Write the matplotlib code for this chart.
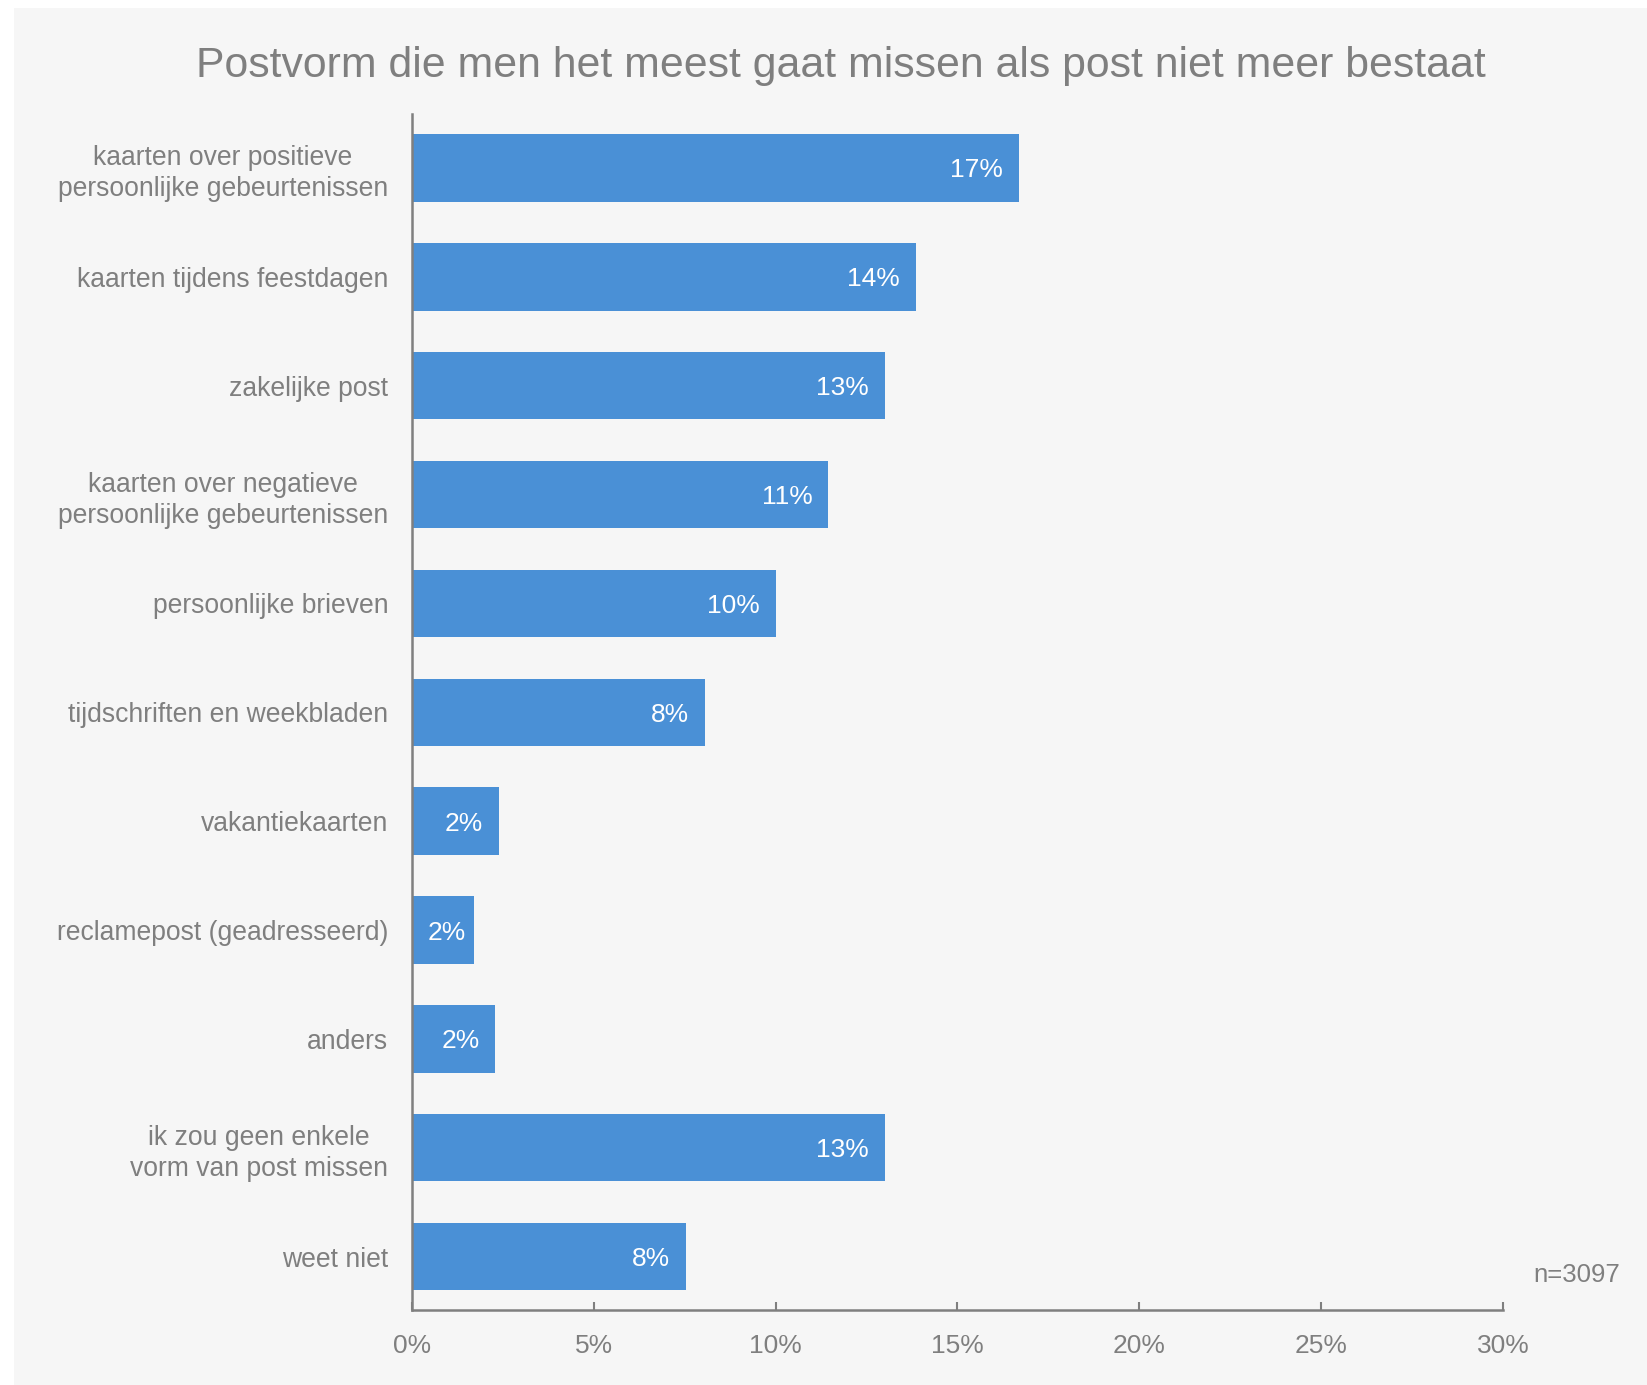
import matplotlib
matplotlib.use("Agg")
import matplotlib.pyplot as plt
from matplotlib.patches import Rectangle

categories = [
    "kaarten over positieve\npersoonlijke gebeurtenissen",
    "kaarten tijdens feestdagen",
    "zakelijke post",
    "kaarten over negatieve\npersoonlijke gebeurtenissen",
    "persoonlijke brieven",
    "tijdschriften en weekbladen",
    "vakantiekaarten",
    "reclamepost (geadresseerd)",
    "anders",
    "ik zou geen enkele\nvorm van post missen",
    "weet niet",
]
values = [16.7, 13.85, 13.0, 11.45, 10.0, 8.05, 2.4, 1.7, 2.3, 13.0, 7.55]
xticks = [0, 5, 10, 15, 20, 25, 30]
xticklabels = ["0%", "5%", "10%", "15%", "20%", "25%", "30%"]
title = "Postvorm die men het meest gaat missen als post niet meer bestaat"
note = "n=3097"

bar_color = "#4a90d6"
text_color = "#7f7f7f"
panel_color = "#f6f6f6"

plt.rcParams["font.family"] = ["Liberation Sans", "DejaVu Sans"]

fig = plt.figure(figsize=(16.47, 13.85), dpi=100, facecolor="white")
fig.patches.append(Rectangle((14 / 1647, 0), 1, (1385 - 8) / 1385,
                             transform=fig.transFigure, facecolor=panel_color,
                             edgecolor="none", zorder=-10))

ax = fig.add_axes([0.25, 0.0542, 0.6626, 0.8638])
ax.set_facecolor("none")

pos = list(range(len(categories)))
ax.barh(pos, values, height=0.62, color=bar_color)
ax.set_xlim(0, 30)
ax.set_ylim(10.49, -0.5)

ax.set_yticks(pos)
ax.set_yticklabels(categories, fontsize=19.1, color=text_color,
                   multialignment="center", linespacing=1.25)
ax.tick_params(axis="y", length=0, pad=17)
ax.set_xticks(xticks)
ax.set_xticklabels(xticklabels, fontsize=19, color=text_color)
ax.tick_params(axis="x", direction="in", length=6, width=1.5,
               color=text_color, pad=17)

for s in ["top", "right"]:
    ax.spines[s].set_visible(False)
for s in ["left", "bottom"]:
    ax.spines[s].set_color(text_color)
    ax.spines[s].set_linewidth(1.8)

pad = 16
texts = []
for p, v in zip(pos, values):
    t = ax.annotate(f"{round(v)}%", (v, p), xytext=(-pad, 0),
                    textcoords="offset pixels", ha="right", va="center_baseline",
                    fontsize=19, color="white")
    texts.append(t)

# labels that would run past the axis get pinned to its left
fig.canvas.draw()
r = fig.canvas.get_renderer()
x0 = ax.transData.transform((0, 0))[0]
for t, p in zip(texts, pos):
    bb = t.get_window_extent(r)
    if bb.x0 < x0 + pad:
        t.xy = (0, p)
        t.set_position((pad, 0))
        t.set_ha("left")

fig.text(841 / 1647, 1 - 66 / 1385, title, ha="center", va="center",
         fontsize=30.8, color=text_color)
fig.text(1620 / 1647, 1 - 1275 / 1385, note, ha="right", va="center",
         fontsize=18.5, color=text_color)

fig.savefig("out.png", dpi=100, facecolor=fig.get_facecolor())
